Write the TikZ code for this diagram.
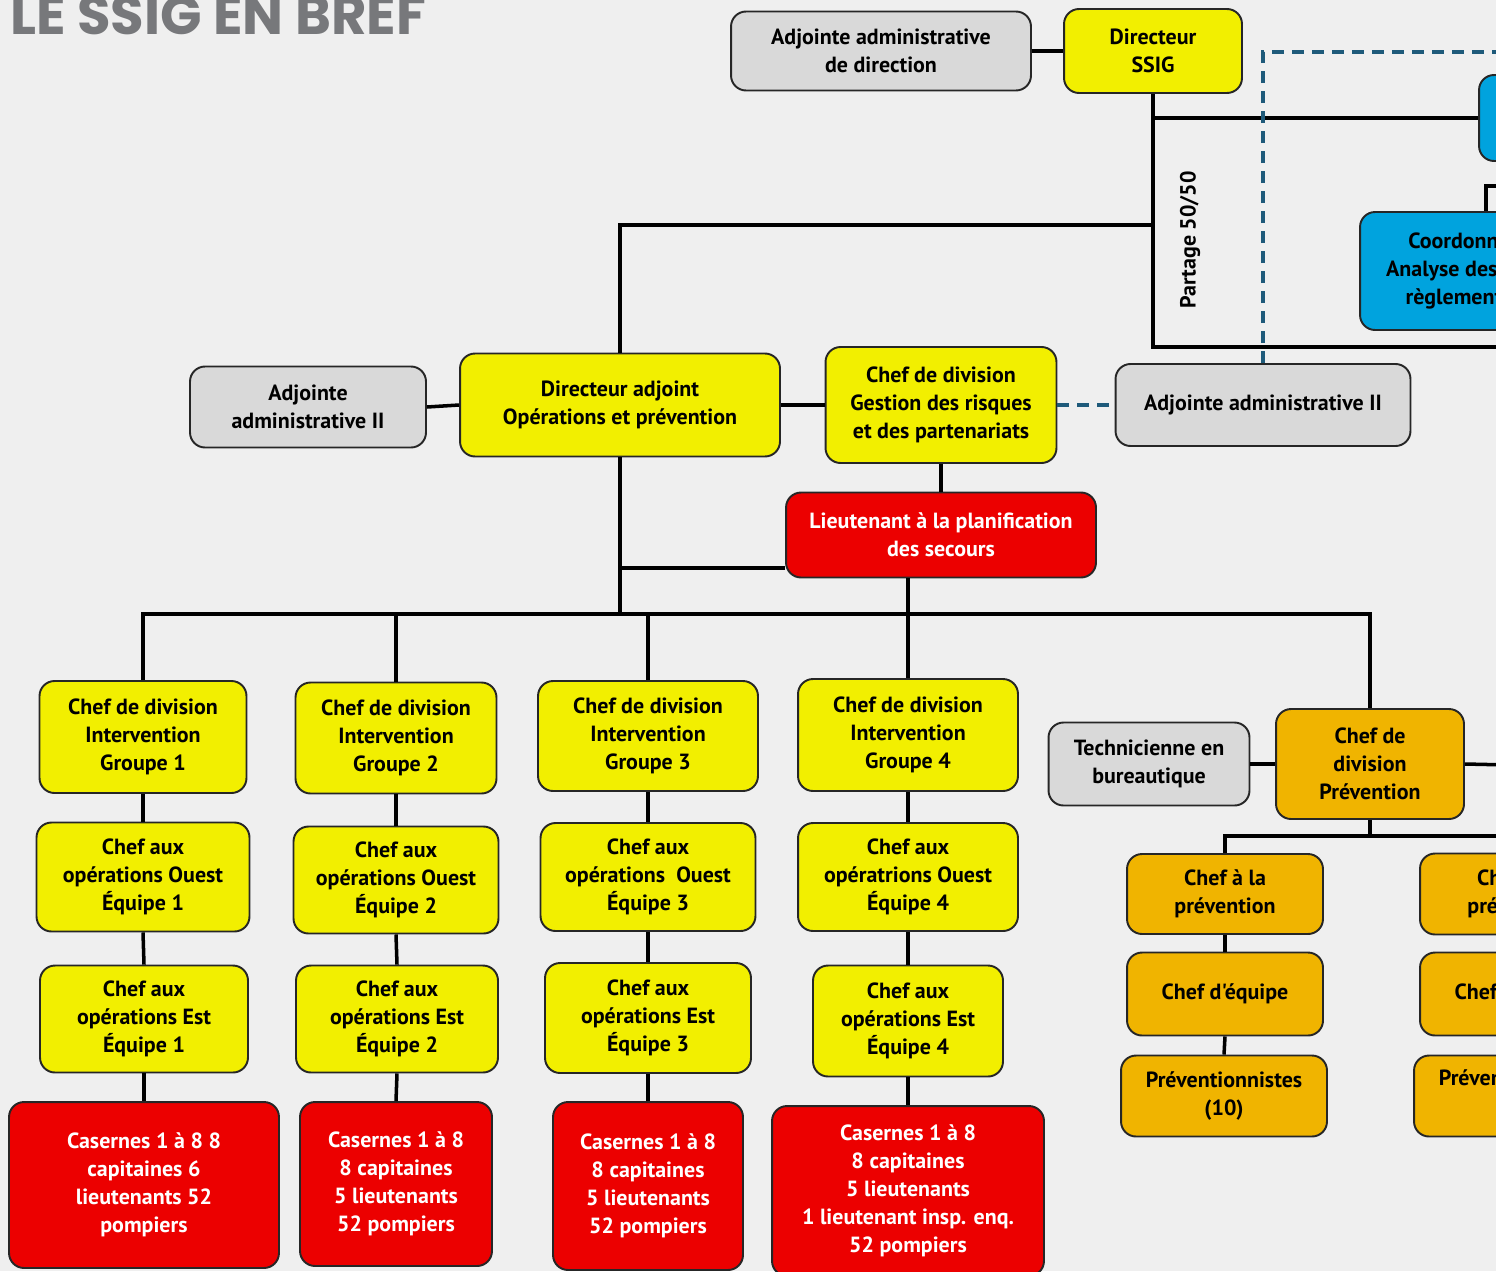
\documentclass[tikz,border=0pt]{standalone}
\usepackage{fontspec}
\newfontfamily\lblfont{PT Sans}
\newfontfamily\titlefont{Poppins}
\usetikzlibrary{positioning}

\definecolor{bgcol}{RGB}{239,239,239}
\definecolor{ssigyellow}{RGB}{242,239,0}
\definecolor{ssiggrey}{RGB}{217,217,217}
\definecolor{ssigred}{RGB}{236,0,0}
\definecolor{ssigorange}{RGB}{240,180,0}
\definecolor{ssigblue}{RGB}{0,163,222}
\definecolor{dashblue}{RGB}{30,90,122}
\definecolor{titlegrey}{RGB}{119,120,123}

\begin{document}
\begin{tikzpicture}[
  x=0.02cm,y=-0.02cm,
  box/.style={draw=black!85,line width=1.1pt,rounded corners=0.3cm,align=center,inner sep=2pt,font=\lblfont\bfseries\fontsize{12.5}{15.9}\selectfont},
  jaune/.style={box,fill=ssigyellow},
  gris/.style={box,fill=ssiggrey},
  rouge/.style={box,fill=ssigred,text=white},
  prev/.style={box,fill=ssigorange},
  bleu/.style={box,fill=ssigblue},
  etiq/.style={inner sep=0pt,font=\lblfont\bfseries\fontsize{12.5}{15.9}\selectfont},
  lien/.style={line width=2pt,draw=black},
  pointille/.style={line width=1.8pt,draw=dashblue,dash pattern=on 0.24cm off 0.16cm}
]
\useasboundingbox (0,0) rectangle (1496,1271);
\clip (0,0) rectangle (1496,1271);
\fill[bgcol] (0,0) rectangle (1496,1271);

% Titre
\node[anchor=base west,inner sep=0pt,text=titlegrey,font=\titlefont\bfseries\fontsize{31}{31}\selectfont] (titre) at (10,34) {LE SSIG EN BREF};

% Direction
\node[gris,minimum width=6.0cm,minimum height=1.58cm] (adjdir) at (881,51) {Adjointe administrative\\de direction};
\node[jaune,minimum width=3.56cm,minimum height=1.68cm] (dirssig) at (1153,51) {Directeur\\SSIG};
\node[bleu,minimum width=4.72cm,minimum height=1.72cm] (bleuhaut) at (1597,118) {};
\node[bleu,minimum width=4.72cm,minimum height=2.36cm] (coord) at (1478,271) {Coordonnateur\\Analyse des risques\\règlementation};
\node[etiq,rotate=90] (partage) at (1190,240) {Partage 50/50};
\coordinate (cadre) at (1600,347);
\coordinate (pointR) at (1600,52);
\coordinate (coordlien) at (1600,186);
\coordinate (split) at (1153,225);

% Directeur adjoint et gestion des risques
\node[gris,minimum width=4.72cm,minimum height=1.62cm] (adjII) at (308,407) {Adjointe\\administrative II};
\node[jaune,minimum width=6.4cm,minimum height=2.06cm] (diradj) at (620,405) {Directeur adjoint\\Opérations et prévention};
\node[jaune,minimum width=4.62cm,minimum height=2.32cm] (gestion) at (941,405) {Chef de division\\Gestion des risques\\et des partenariats};
\node[gris,minimum width=5.9cm,minimum height=1.64cm] (adjIIr) at (1263,405) {Adjointe administrative II};
\node[rouge,minimum width=6.2cm,minimum height=1.7cm] (lieut) at (941,535) {Lieutenant à la planification\\des secours};
\coordinate (bus) at (0,614);

% Groupe 1
\node[jaune,minimum width=4.14cm,minimum height=2.24cm] (g1) at (143,737) {Chef de division\\Intervention\\Groupe 1};
\node[jaune,minimum width=4.26cm,minimum height=2.18cm] (o1) at (143,877) {Chef aux\\opérations Ouest\\Équipe 1};
\node[jaune,minimum width=4.16cm,minimum height=2.14cm] (e1) at (144,1019) {Chef aux\\opérations Est\\Équipe 1};
\node[rouge,minimum width=5.4cm,minimum height=3.32cm] (c1) at (144,1185) {Casernes 1 à 8 8\\capitaines 6\\lieutenants 52\\pompiers};

% Groupe 2
\node[jaune,minimum width=4.02cm,minimum height=2.22cm] (g2) at (396,738) {Chef de division\\Intervention\\Groupe 2};
\node[jaune,minimum width=4.1cm,minimum height=2.14cm] (o2) at (396,880) {Chef aux\\opérations Ouest\\Équipe 2};
\node[jaune,minimum width=4.04cm,minimum height=2.14cm] (e2) at (397,1019) {Chef aux\\opérations Est\\Équipe 2};
\node[rouge,minimum width=3.84cm,minimum height=3.28cm] (c2) at (396,1184) {Casernes 1 à 8\\8 capitaines\\5 lieutenants\\52 pompiers};

% Groupe 3
\node[jaune,minimum width=4.4cm,minimum height=2.2cm] (g3) at (648,736) {Chef de division\\Intervention\\Groupe 3};
\node[jaune,minimum width=4.3cm,minimum height=2.16cm] (o3) at (648,877) {Chef aux\\opérations\ \ Ouest\\Équipe 3};
\node[jaune,minimum width=4.12cm,minimum height=2.2cm] (e3) at (648,1018) {Chef aux\\opérations Est\\Équipe 3};
\node[rouge,minimum width=3.8cm,minimum height=3.36cm] (c3) at (648,1186) {Casernes 1 à 8\\8 capitaines\\5 lieutenants\\52 pompiers};

% Groupe 4
\node[jaune,minimum width=4.4cm,minimum height=2.24cm] (g4) at (908,735) {Chef de division\\Intervention\\Groupe 4};
\node[jaune,minimum width=4.4cm,minimum height=2.16cm] (o4) at (908,877) {Chef aux\\opératrions Ouest\\Équipe 4};
\node[jaune,minimum width=3.8cm,minimum height=2.22cm] (e4) at (908,1021) {Chef aux\\opérations Est\\Équipe 4};
\node[rouge,minimum width=5.44cm,minimum height=3.4cm] (c4) at (908,1191) {Casernes 1 à 8\\8 capitaines\\5 lieutenants\\1 lieutenant insp. enq.\\52 pompiers};

% Prevention
\node[gris,minimum width=4.02cm,minimum height=1.66cm] (tech) at (1149,764) {Technicienne en\\bureautique};
\node[prev,minimum width=3.76cm,minimum height=2.2cm] (prevdiv) at (1370,764) {Chef de\\division\\Prévention};
\node[prev,minimum width=3.92cm,minimum height=1.6cm] (cap1) at (1225,894) {Chef à la\\prévention};
\node[prev,minimum width=3.92cm,minimum height=1.66cm] (ceq1) at (1225,994) {Chef d'équipe};
\node[prev,minimum width=4.12cm,minimum height=1.62cm] (prv1) at (1224,1096) {Préventionnistes\\(10)};
\node[prev,minimum width=3.92cm,minimum height=1.62cm] (cap2) at (1518,894) {Chef à la\\prévention};
\node[prev,minimum width=3.92cm,minimum height=1.66cm] (ceq2) at (1518,994) {Chef d'équipe};
\node[prev,minimum width=4.12cm,minimum height=1.62cm] (prv2) at (1517,1096) {Préventionnistes\\\strut};
\coordinate (prevR) at (1600,767);
\coordinate (pbus) at (0,836);

% Liens direction
\draw[lien] (adjdir.east) -- (dirssig.west);
\draw[lien] (dirssig.south) |- (cadre);
\draw[lien] (dirssig.south |- bleuhaut.west) -- (bleuhaut.west);
\draw[lien] ([xshift=0.16cm]coord.north) |- (coordlien);
\draw[lien] (split) -| (diradj.north);
\draw[pointille] (adjIIr.north) |- (pointR);

% Liens directeur adjoint
\draw[lien] (adjII.east) -- (diradj.west);
\draw[lien] (diradj.east) -- (gestion.west);
\draw[pointille] (gestion.east) -- (adjIIr.west);
\draw[lien] (gestion.south -| lieut.north) -- (lieut.north);
\draw[lien] (diradj.south) -- (diradj.south |- bus);
\draw[lien] ([yshift=-0.66cm]lieut.west) -- ([yshift=-0.66cm]lieut.west -| diradj.south);
\draw[lien] (g1.north) -- (g1.north |- bus) -- (prevdiv.north |- bus) -- (prevdiv.north);
\draw[lien] (g2.north) -- (g2.north |- bus);
\draw[lien] (g3.north) -- (g3.north |- bus);
\draw[lien] (g4.north |- lieut.south) -- (g4.north);

% Liens groupes
\draw[lien] (g1.south) -- (o1.north);
\draw[lien] (o1.south) -- (e1.north);
\draw[lien] (e1.south) -- (c1.north);
\draw[lien] (g2.south) -- (o2.north);
\draw[lien] (o2.south) -- (e2.north);
\draw[lien] (e2.south) -- (c2.north);
\draw[lien] (g3.south) -- (o3.north);
\draw[lien] (o3.south) -- (e3.north);
\draw[lien] (e3.south) -- (c3.north);
\draw[lien] (g4.south) -- (o4.north);
\draw[lien] (o4.south) -- (e4.north);
\draw[lien] (e4.south) -- (c4.north);

% Liens prevention
\draw[lien] (tech.east) -- (prevdiv.west);
\draw[lien] (prevdiv.east) -- (prevR);
\draw[lien] (prevdiv.south) -- (prevdiv.south |- pbus);
\draw[lien] (cap1.north) -- (cap1.north |- pbus) -- (cap2.north |- pbus) -- (cap2.north);
\draw[lien] (cap1.south) -- (ceq1.north);
\draw[lien] (ceq1.south) -- (prv1.north);
\draw[lien] (cap2.south) -- (ceq2.north);
\draw[lien] (ceq2.south) -- (prv2.north);

\end{tikzpicture}
\end{document}
